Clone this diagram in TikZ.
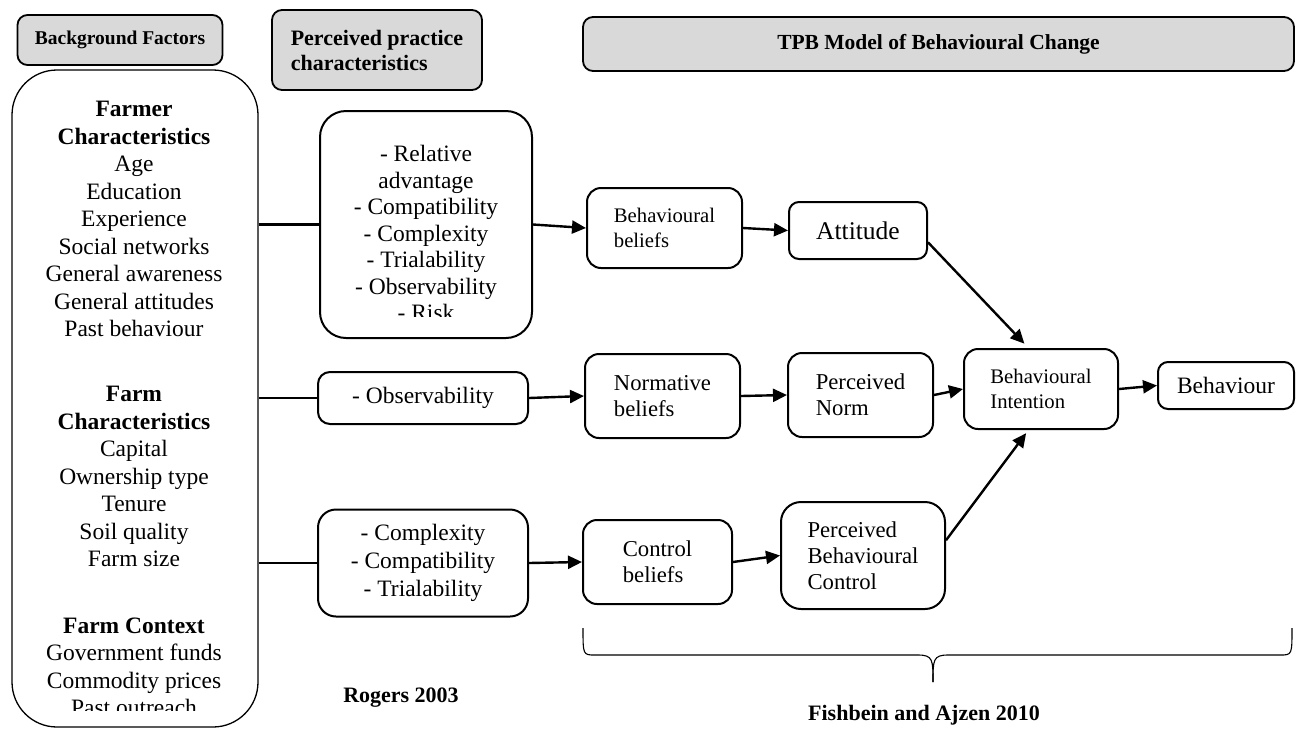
\documentclass[tikz,border=0pt]{standalone}
\usepackage{fontspec}
\setmainfont{Liberation Serif}
\usetikzlibrary{arrows.meta}
\usetikzlibrary{calc}
\usetikzlibrary{positioning}

\definecolor{hdgray}{RGB}{217,217,217}

\begin{document}
\begin{tikzpicture}[x=1pt, y=-1pt,
    hdbox/.style={draw, fill=hdgray, line width=1.8pt, rounded corners=10pt,
      inner sep=0, font=\fontsize{21}{25}\selectfont\bfseries},
    blk/.style={draw, line width=2pt, rounded corners=14pt, inner sep=0,
      align=left, font=\fontsize{22.7}{26}\selectfont},
    txt/.style={inner sep=0, align=center, font=\fontsize{23.5}{27.5}\selectfont},
    feed/.style={line width=2.4pt},
    link/.style={line width=2.4pt, -{Triangle[length=14pt,width=13pt]}}
  ]
  \useasboundingbox (0,0) rectangle (1296,729);

  \node[hdbox, minimum width=205pt, minimum height=50pt,
    font=\fontsize{19.5}{23}\selectfont\bfseries] (bf) at (120,40) {Background Factors};
  \node[hdbox, minimum width=210pt, minimum height=80pt, align=left,
    font=\fontsize{22}{25}\selectfont\bfseries] (pp) at (377,50) {Perceived practice\\characteristics};
  \node[hdbox, minimum width=711pt, minimum height=54pt,
    font=\fontsize{21.5}{25}\selectfont\bfseries] (tpb) at (938.5,44) {TPB Model of Behavioural Change};

  \node[draw, line width=1.3pt, rounded corners=45pt, inner sep=0,
    minimum width=246pt, minimum height=657pt] (bgbox) at (135,398.5) {};
  \node[txt] (farmer) at (134,219) {\textbf{Farmer}\\\textbf{Characteristics}\\Age\\Education\\Experience\\Social networks\\General awareness\\General attitudes\\Past behaviour};
  \node[txt] (farm) at (134,476.5) {\textbf{Farm}\\\textbf{Characteristics}\\Capital\\Ownership type\\Tenure\\Soil quality\\Farm size};
  \begin{scope}
    \clip (0,0) rectangle (1296,710);
    \node[txt] (context) at (134,667) {\textbf{Farm Context}\\Government funds\\Commodity prices\\Past outreach};
  \end{scope}

  \node[blk, rounded corners=26pt, minimum width=212pt, minimum height=227pt] (rel) at (426,224.5) {};
  \begin{scope}
    \clip (rel.north west) rectangle ($(rel.south east)+(0,-23)$);
    \node[txt, font=\fontsize{23.5}{26.5}\selectfont] (reltxt) at (426,233) {- Relative\\advantage\\- Compatibility\\- Complexity\\- Trialability\\- Observability\\- Risk};
  \end{scope}
  \node[blk, rounded corners=12pt, minimum width=210pt, minimum height=52pt,
    font=\fontsize{23.5}{27.5}\selectfont] (obs) at (423,398) {- Observability};
  \node[blk, align=center, rounded corners=18pt, minimum width=210pt, minimum height=107pt,
    font=\fontsize{23.5}{28}\selectfont] (cmp) at (423,563) {- Complexity\\- Compatibility\\- Trialability};

  \node[blk, minimum width=155pt, minimum height=80pt,
    font=\fontsize{20.7}{25}\selectfont] (bb) at (664.5,228) {Behavioural\\beliefs};
  \node[blk, rounded corners=10pt, minimum width=138pt, minimum height=57pt,
    font=\fontsize{25.5}{30}\selectfont] (att) at (858,230.5) {Attitude};
  \node[blk, minimum width=155pt, minimum height=84pt] (nb) at (662.5,396) {Normative\\beliefs};
  \node[blk, minimum width=145pt, minimum height=84pt] (pn) at (860.5,395) {Perceived\\Norm};
  \node[blk, minimum width=154pt, minimum height=80pt,
    font=\fontsize{20.7}{25}\selectfont] (bi) at (1041,389) {Behavioural\\Intention};
  \node[blk, rounded corners=10pt, minimum width=136pt, minimum height=47pt,
    font=\fontsize{23.5}{28}\selectfont] (beh) at (1226,385.5) {Behaviour};
  \node[blk, minimum width=149pt, minimum height=84pt] (cb) at (657.5,562) {Control\\beliefs};
  \node[blk, rounded corners=20pt, minimum width=164pt, minimum height=107pt] (pbc) at (863,555.5) {Perceived\\Behavioural\\Control};

  \draw[feed] (bgbox.east |- rel.west) -- (rel.west);
  \draw[feed] (bgbox.east |- obs.west) -- (obs.west);
  \draw[feed] (bgbox.east |- cmp.west) -- (cmp.west);

  \draw[link] (rel.east) -- (bb.west);
  \draw[link] (bb.east) -- (att.west);
  \draw[link] (obs.east) -- (nb.west);
  \draw[link] (nb.east) -- (pn.west);
  \draw[link] (pn.east) -- (bi.west);
  \draw[link] (bi.east) -- (beh.west);
  \draw[link] (cmp.east) -- (cb.west);
  \draw[link] (cb.east) -- (pbc.west);

  \coordinate (att_out) at ($(att.north east)!0.7!(att.south east)$);
  \coordinate (pbc_out) at ($(pbc.north east)!0.36!(pbc.south east)$);
  \coordinate (bi_in1) at ($(bi.north west)!0.42!(bi.north east)$);
  \coordinate (bi_in2) at ($(bi.south west)!0.42!(bi.south east)$);
  \draw[link, shorten >=6pt] (att_out) -- (bi_in1);
  \draw[link, shorten >=4pt] (pbc_out) -- (bi_in2);

  \coordinate (br_l) at (583,628);
  \coordinate (br_r) at (1292,628);
  \coordinate (br_tip) at (933,682);
  \draw[line width=1.1pt] (br_l) .. controls (583,655) and (583,655) .. (595,655)
    -- (918,655) .. controls (933,655) and (933,660) .. (br_tip);
  \draw[line width=1.1pt] (br_r) .. controls (1292,655) and (1292,655) .. (1280,655)
    -- (948,655) .. controls (933,655) and (933,660) .. (br_tip);

  \node[inner sep=0, font=\fontsize{22}{26}\selectfont\bfseries] (rogers) at (401,698) {Rogers 2003};
  \node[inner sep=0, font=\fontsize{22}{26}\selectfont\bfseries] (fishbein) at (924,715) {Fishbein and Ajzen 2010};
\end{tikzpicture}
\end{document}
